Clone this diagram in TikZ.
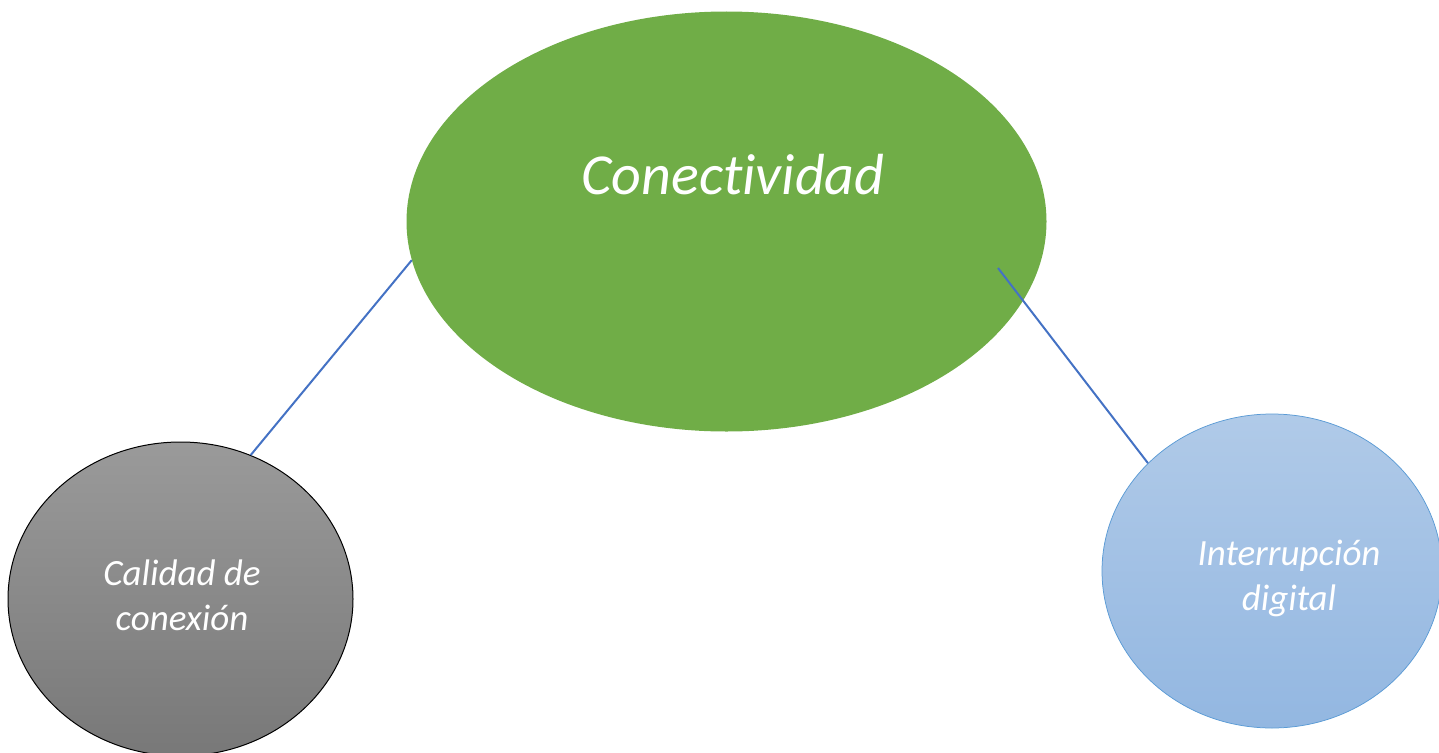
\documentclass[tikz,border=0pt]{standalone}
\usepackage{fontspec}
\setmainfont{Carlito}[Ligatures=NoCommon]
\usetikzlibrary{shapes.geometric}

\definecolor{conectgreen}{HTML}{70AD47}
\definecolor{greytop}{HTML}{9A9A9A}
\definecolor{greybottom}{HTML}{787878}
\definecolor{bluetop}{HTML}{B0CAE8}
\definecolor{bluebottom}{HTML}{93B7E1}
\definecolor{blueedge}{HTML}{5B9BD5}
\definecolor{linkblue}{HTML}{4472C4}

\begin{document}
\begin{tikzpicture}[x=1pt, y=-1pt,
        bubble/.style={ellipse, inner sep=0pt},
        bubbletext/.style={text=white, align=center, font=\itshape\fontsize{37}{45}\selectfont},
        link/.style={draw=linkblue, line width=2pt}]

            \useasboundingbox (0,0) rectangle (1439,752);

            % Draw the main ellipse
            \node[bubble, fill=conectgreen, minimum width=640, minimum height=420] (conect) at (726.5,221.5) {};
            \node[anchor=base, text=white, font=\itshape\fontsize{58}{70}\selectfont] (conectlbl) at (733,194) {Conectividad};

            % Draw ellipse (left)
            \node[bubble, draw=black, line width=1pt, top color=greytop, bottom color=greybottom,
                  minimum width=345, minimum height=314] (calidad) at (180.5,599) {};
            \node[bubbletext] (calidadlbl) at (182,595) {Calidad de\\conexión};

            % Draw ellipse (right)
            \node[bubble, draw=blueedge, line width=0.75pt, top color=bluetop, bottom color=bluebottom,
                  minimum width=340, minimum height=314] (interr) at (1272,571) {};
            \node[bubbletext] (interrlbl) at (1289,578) {Interrupción\\digital};

            % Draw the links
            \coordinate (conectin) at (998,268);
            \draw[link] (conect.187) -- (calidad.64);
            \draw[link] (conectin) -- (interr.139.4);

        \end{tikzpicture}
\end{document}
